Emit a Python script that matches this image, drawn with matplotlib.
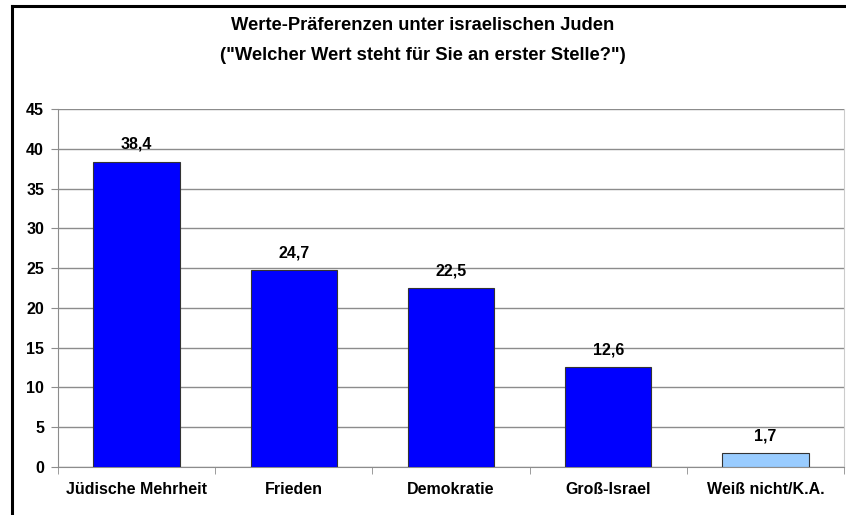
import numpy as np
import matplotlib
matplotlib.use("Agg")
import matplotlib.pyplot as plt
from matplotlib.lines import Line2D

# chart data
categories = ["Jüdische Mehrheit", "Frieden", "Demokratie", "Groß-Israel", "Weiß nicht/K.A."]
values = [38.4, 24.7, 22.5, 12.6, 1.7]
labels = ["38,4", "24,7", "22,5", "12,6", "1,7"]
colors = ["#0000FF", "#0000FF", "#0000FF", "#0000FF", "#99CCFF"]

plt.rcParams['font.family'] = ['Liberation Sans', 'DejaVu Sans']
plt.rcParams['font.weight'] = 'bold'

fig = plt.figure(figsize=(8.46, 5.15), dpi=100)
ax = fig.add_axes([58/846, 1-467/515, (844-58)/846, (467-109)/515])

gray = '#8c8c8c'
x = np.arange(len(categories))
ax.bar(x, values, width=0.55, color=colors, edgecolor='#333333', linewidth=0.8, zorder=3)

for xi, v, lab in zip(x, values, labels):
    ax.annotate(lab, (xi, v), xytext=(0, 7), textcoords='offset points',
                ha='center', va='bottom', fontsize=11.5, fontweight='bold')

ax.set_xlim(-0.5, len(categories) - 0.5)
ax.set_ylim(0, 45)
ax.set_yticks(np.arange(0, 50, 5))
ax.yaxis.grid(True, color=gray, linewidth=1.0)
ax.set_axisbelow(True)

ax.set_xticks(x)
ax.set_xticklabels(categories, fontsize=11.5, fontweight='bold')
ax.tick_params(axis='x', length=0, pad=11)
# tick marks between categories
ax.set_xticks(np.arange(-0.5, len(categories) + 0.5, 1), minor=True)
ax.tick_params(axis='x', which='minor', length=5, color=gray, direction='out')
ax.tick_params(axis='y', length=5, color=gray, labelsize=11.5, pad=5)
for lbl in ax.get_yticklabels():
    lbl.set_fontweight('bold')

ax.spines['top'].set_visible(False)
ax.spines['right'].set_color('#cccccc')
ax.spines['left'].set_color(gray)
ax.spines['bottom'].set_color(gray)

fig.text(423/846, 1-25/515, "Werte-Präferenzen unter israelischen Juden",
         ha='center', va='center', fontsize=13.2, fontweight='bold')
fig.text(423/846, 1-55/515, "(\"Welcher Wert steht für Sie an erster Stelle?\")",
         ha='center', va='center', fontsize=13.2, fontweight='bold')

# outer frame (top and left edges visible)
fig.add_artist(Line2D([12/846, 1], [1-6/515, 1-6/515], color='black', linewidth=2.2))
fig.add_artist(Line2D([12/846, 12/846], [0, 1-6/515], color='black', linewidth=2.2))

fig.savefig("out.png", dpi=100)
